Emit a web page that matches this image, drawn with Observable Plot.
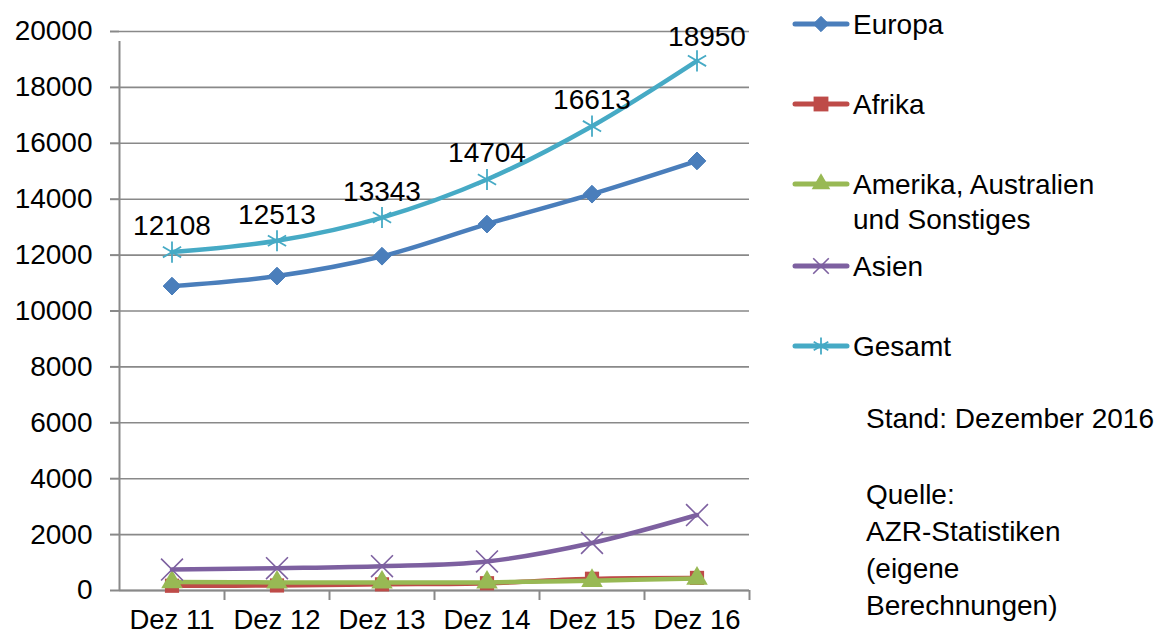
<!DOCTYPE html>
<html>
<head>
<meta charset="utf-8">
<script src="https://cdn.jsdelivr.net/npm/d3@7"></script>
<script src="https://cdn.jsdelivr.net/npm/@observablehq/plot@0.6"></script>
<style>
  html, body { margin: 0; padding: 0; background: #fff; }
  #wrap { position: relative; width: 1174px; height: 635px; font-family: "Liberation Sans", Arial, sans-serif; color: #000; overflow: hidden; }
  #legend { position: absolute; left: 0; top: 0; width: 1174px; height: 635px; pointer-events: none; }
  .item { position: absolute; left: 792px; display: flex; align-items: flex-start; }
  .item svg { flex: none; }
  .item span { font-size: 28px; line-height: 35px; margin-left: 3px; margin-top: -17px; }
  .note { position: absolute; left: 866px; font-size: 28px; line-height: 37px; }
</style>
</head>
<body>
<div id="wrap"><div id="chart"></div><div id="legend"></div></div>
<script>
const categories = ["Dez 11", "Dez 12", "Dez 13", "Dez 14", "Dez 15", "Dez 16"];
const europa  = [10890, 11250, 11960, 13110, 14180, 15370];
const afrika  = [170, 180, 220, 260, 420, 450];
const amerika = [300, 290, 290, 290, 350, 430];
const asien   = [750, 800, 870, 1040, 1700, 2700];
const gesamt  = [12108, 12513, 13343, 14704, 16613, 18950];
const yTicks  = [0, 2000, 4000, 6000, 8000, 10000, 12000, 14000, 16000, 18000, 20000];
const seriesNames = ["Europa", "Afrika", "Amerika, Australien und Sonstiges", "Asien", "Gesamt"];
const seriesValues = [europa, afrika, amerika, asien, gesamt];

const styles = [
  {color: "#4A7EBB", symbol: "diamond2", r: 8,  filled: true,  sw: 1,   lsize: 150},
  {color: "#BE4B48", symbol: "square",   r: 8,  filled: true,  sw: 0,   lsize: 220},
  {color: "#98B954", symbol: "triangle", r: 8,  filled: true,  sw: 0,   lsize: 150},
  {color: "#7D60A0", symbol: "times",    r: 10, filled: false, sw: 1.6, lsize: 160},
  {color: "#46AAC5", symbol: "asterisk", r: 10, filled: false, sw: 1.8, lsize: 200}
];

const series = seriesNames.map((name, s) => ({
  name,
  rows: categories.map((c, i) => ({cat: c, x: i + 0.5, value: seriesValues[s][i]}))
}));

const grid = "#898989";
const font = "Liberation Sans, Arial, sans-serif";

const marks = [
  Plot.gridY(yTicks, {stroke: grid, strokeOpacity: 1, strokeWidth: 1.6}),
  Plot.ruleX([0], {y1: 0, y2: 20000, insetBottom: -10, stroke: grid, strokeWidth: 2}),
  Plot.ruleY([0], {stroke: grid, strokeWidth: 2}),
  Plot.axisY(yTicks, {tickSize: 9, tickPadding: 18, fontSize: 28, stroke: grid, strokeWidth: 2, fill: "#000", label: null, tickFormat: d => String(d)}),
  Plot.axisX([1, 2, 3, 4, 5, 6], {tickSize: 10, stroke: grid, strokeWidth: 2, tickFormat: () => "", label: null}),
  Plot.axisX(categories.map((c, i) => i + 0.5), {tickSize: 0, tickPadding: 19, fontSize: 27.5, fill: "#000", label: null, tickFormat: d => categories[Math.round(d - 0.5)]})
];

series.forEach((s, k) => {
  const st = styles[k];
  marks.push(Plot.line(s.rows, {x: "x", y: "value", stroke: st.color, strokeWidth: 4.5, curve: "catmull-rom", strokeLinecap: "round", strokeLinejoin: "round"}));
  marks.push(Plot.dot(s.rows, {
    x: "x", y: "value", symbol: () => st.symbol, r: st.r,
    fill: st.filled ? st.color : "none",
    stroke: st.color, strokeWidth: st.sw || 0.01
  }));
});

const labelRows = series[4].rows;
marks.push(Plot.text(labelRows.slice(0, -1), {x: "x", y: "value", text: d => String(d.value), dy: -26, fontSize: 28, fill: "#000"}));
marks.push(Plot.text(labelRows.slice(-1), {x: "x", y: "value", text: d => String(d.value), dy: -24, dx: 10, fontSize: 28, fill: "#000"}));

const chart = Plot.plot({
  width: 1174,
  height: 635,
  marginLeft: 119,
  marginRight: 425,
  marginTop: 31,
  marginBottom: 45,
  style: {fontFamily: font, color: "#000", background: "#fff", overflow: "visible"},
  x: {domain: [0, 6]},
  y: {domain: [0, 20000]},
  symbol: {type: "identity"},
  marks
});
document.getElementById("chart").appendChild(chart);

// Legend (HTML text + small SVG swatches)
const legend = document.getElementById("legend");
const legendY = [24, 104, 184, 266, 346];
const legendLabels = ["Europa", "Afrika", "Amerika, Australien<br>und Sonstiges", "Asien", "Gesamt"];
const symMap = {diamond2: d3.symbolDiamond2, square: d3.symbolSquare, triangle: d3.symbolTriangle, times: d3.symbolTimes, asterisk: d3.symbolAsterisk};
seriesNames.forEach((name, k) => {
  const st = styles[k];
  const item = document.createElement("div");
  item.className = "item";
  item.style.top = (legendY[k]) + "px";
  const svg = d3.create("svg").attr("width", 58).attr("height", 24).style("margin-top", "-12px");
  svg.append("line").attr("x1", 3).attr("x2", 55).attr("y1", 12).attr("y2", 12)
    .attr("stroke", st.color).attr("stroke-width", 5).attr("stroke-linecap", "round");
  svg.append("path").attr("transform", "translate(29,12)")
    .attr("d", d3.symbol(symMap[st.symbol], st.lsize)())
    .attr("fill", st.filled ? st.color : "none")
    .attr("stroke", st.color).attr("stroke-width", st.sw || 0);
  item.appendChild(svg.node());
  const span = document.createElement("span");
  span.innerHTML = legendLabels[k];
  item.appendChild(span);
  legend.appendChild(item);
});

const notes = [
  {text: "Stand: Dezember 2016", y: 400},
  {text: "Quelle:<br>AZR-Statistiken<br>(eigene<br>Berechnungen)", y: 476}
];
notes.forEach(n => {
  const d = document.createElement("div");
  d.className = "note";
  d.style.top = n.y + "px";
  d.innerHTML = n.text;
  legend.appendChild(d);
});
</script>
</body>
</html>
